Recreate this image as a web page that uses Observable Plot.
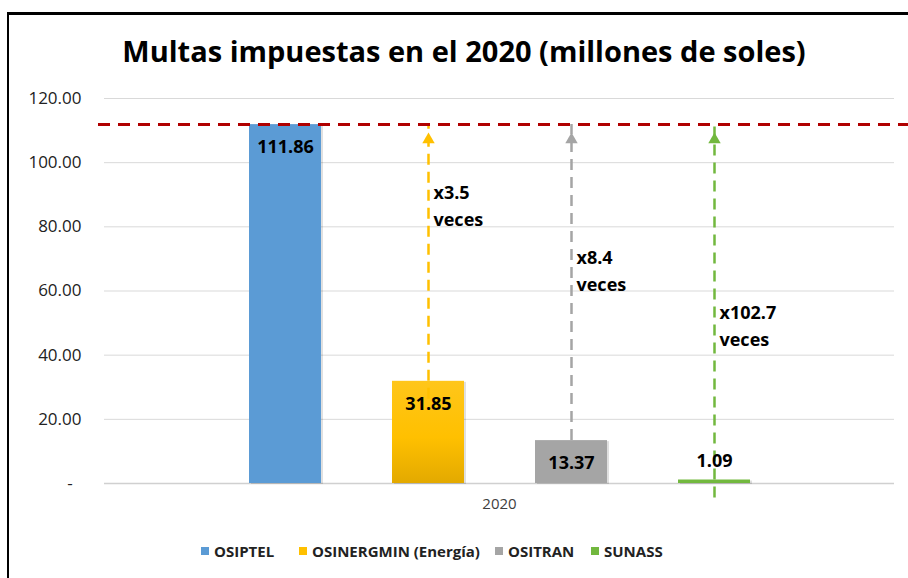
<!DOCTYPE html>
<html>
<head>
<meta charset="utf-8">
<script src="https://cdn.jsdelivr.net/npm/d3@7"></script>
<script src="https://cdn.jsdelivr.net/npm/@observablehq/plot@0.6"></script>
<style>
  html, body { margin: 0; padding: 0; background: #fff; }
  #wrap { position: relative; width: 908px; height: 578px; overflow: hidden; font-family: "Open Sans", sans-serif; }
  #frame { position: absolute; left: 7px; top: 12px; width: 920px; height: 600px; border-left: 2px solid #000; border-top: 3px solid #000; box-sizing: border-box; }
  #title { position: absolute; left: 0; width: 928px; top: 34px; text-align: center; font-weight: 700; font-size: 29px; color: #000; line-height: 1.2; }
  #legend { position: absolute; left: 0; top: 541px; width: 908px; height: 22px; font-weight: 700; font-size: 15px; color: #222; }
  .item { position: absolute; top: 0; display: flex; align-items: center; white-space: nowrap; height: 20px; }
  .sw { width: 8px; height: 8px; margin-right: 5px; }
  #chart { position: absolute; left: 0; top: 0; }
</style>
</head>
<body>
<div id="wrap">
  <div id="chart"></div>
  <div id="frame"></div>
  <div id="title">Multas impuestas en el 2020 (millones de soles)</div>
  <div id="legend"></div>
</div>
<script>
// ---- data ----
const entities = ["OSIPTEL", "OSINERGMIN (Energía)", "OSITRAN", "SUNASS"];
const fines = [111.86, 31.85, 13.37, 1.09];
const fineLabels = ["111.86", "31.85", "13.37", "1.09"];
const ratioLabels = ["", "x3.5", "x8.4", "x102.7"];
const ratioLabelY = [null, 91, 70.5, 53.5];
const colors = ["#5b9bd5", "#ffc000", "#a5a5a5", "#72b83e"];
const category = "2020";
const yTicks = [0, 20, 40, 60, 80, 100, 120];

// ---- layout (pixel positions of legend entries) ----
const legendLeft = [201, 299, 495, 591];

const rows = entities.map((e, i) => ({
  entity: e, value: fines[i], label: fineLabels[i],
  ratio: ratioLabels[i], ratioY: ratioLabelY[i], color: colors[i]
}));
const maxVal = d3.max(fines);
const others = rows.slice(1);
const fillFor = d => d.entity === "OSINERGMIN (Energía)" ? "url(#goldGrad)" : d.color;

const plot = Plot.plot({
  width: 908,
  height: 578,
  marginTop: 98,
  marginBottom: 95,
  marginLeft: 104,
  marginRight: 14,
  style: { fontFamily: "Open Sans, sans-serif", background: "transparent" },
  x: { domain: entities, paddingInner: 0.5, paddingOuter: 1.0, axis: null },
  y: { domain: [0, 120], ticks: yTicks, axis: null },
  marks: [
    Plot.gridY(yTicks, { stroke: "#d9d9d9", strokeOpacity: 1, strokeWidth: 1 }),
    Plot.ruleY([0], { stroke: "#d0d0d0", strokeWidth: 1.5 }),
    Plot.text(yTicks, {
      y: d => d, frameAnchor: "left", dx: -23, textAnchor: "end",
      text: d => d === 0 ? "-\u00a0\u00a0" : d3.format(".2f")(d),
      fontSize: 17, fill: "#222"
    }),
    // shadow
    Plot.barY(rows, { x: "entity", y: "value", fill: "#000", fillOpacity: 0.12, dx: 2, dy: 1 }),
    Plot.barY(rows, { x: "entity", y: "value", fill: fillFor }),
    // arrows
    Plot.ruleX(others, {
      x: "entity", y1: "value", y2: () => maxVal, stroke: "color",
      strokeWidth: 2.5, strokeDasharray: "11,7", insetTop: 18
    }),
    Plot.dot(others, {
      x: "entity", y: () => maxVal, symbol: "triangle", r: 4.6,
      fill: "color", stroke: "none", dy: 15
    }),
    // max reference line
    Plot.ruleY([maxVal], { stroke: "#b00000", strokeWidth: 3, strokeDasharray: "12,8", insetLeft: -6, insetRight: -14 }),
    // value labels
    Plot.text(rows.slice(0, 3), {
      x: "entity", y: "value", text: "label", dy: 23, fontSize: 18, fontWeight: 700, fill: "#000"
    }),
    Plot.text(rows.slice(3), {
      x: "entity", y: "value", text: "label", dy: -19, fontSize: 18, fontWeight: 700, fill: "#000"
    }),
    // ratio labels
    Plot.text(others, {
      x: "entity", y: "ratioY", text: d => d.ratio + "\nveces", textAnchor: "start",
      lineAnchor: "middle", lineHeight: 1.5, dx: d => 0, dy: 12, fontSize: 18, fontWeight: 700, fill: "#000",
      dx: 5
    }),
    // category label
    Plot.text([category], { frameAnchor: "bottom", dy: 25, fontSize: 15, fill: "#404040" })
  ]
});

// gradient for the gold bar
const svg = d3.select(plot);
const defs = svg.insert("defs", ":first-child");
const g = defs.append("linearGradient").attr("id", "goldGrad")
  .attr("x1", 0).attr("y1", 0).attr("x2", 0).attr("y2", 1);
g.append("stop").attr("offset", "0%").attr("stop-color", "#ffc61a");
g.append("stop").attr("offset", "55%").attr("stop-color", "#ffc000");
g.append("stop").attr("offset", "100%").attr("stop-color", "#e3a900");

document.getElementById("chart").appendChild(plot);

// legend
const legend = d3.select("#legend");
rows.forEach((r, i) => {
  const it = legend.append("div").attr("class", "item").style("left", legendLeft[i] + "px");
  it.append("div").attr("class", "sw").style("background", r.color);
  it.append("span").text(r.entity);
});
</script>
</body>
</html>
